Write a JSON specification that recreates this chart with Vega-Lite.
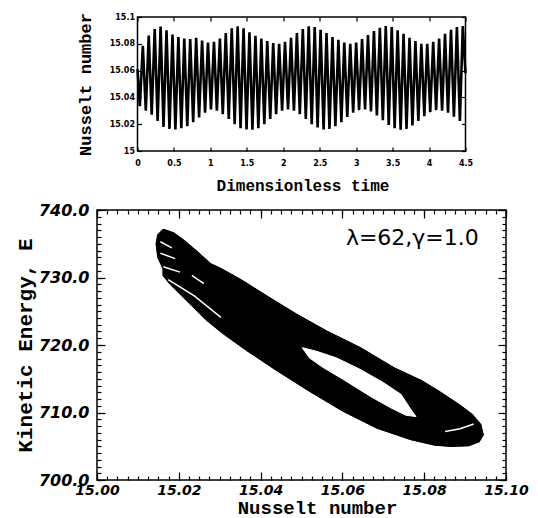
{
  "$schema": "https://vega.github.io/schema/vega-lite/v6.json",
  "padding": {"left": 13, "top": 11, "right": 0, "bottom": 0},
  "background": "white",
  "spacing": 59,
  "bounds": "flush",
  "center": true,
  "config": {
    "view": {"stroke": "black", "strokeWidth": 1.5},
    "axis": {"grid": false, "domain": false, "tickColor": "black", "labelColor": "black", "titleColor": "black", "tickWidth": 1.2}
  },
  "datasets": {
    "series": [
      {"t": 0, "nu": 15.061},
      {"t": 0.032, "nu": 15.0335}, {"t": 0.073, "nu": 15.0785},
      {"t": 0.114, "nu": 15.0300}, {"t": 0.154, "nu": 15.0862},
      {"t": 0.195, "nu": 15.0270}, {"t": 0.236, "nu": 15.0910},
      {"t": 0.276, "nu": 15.0225}, {"t": 0.317, "nu": 15.0928},
      {"t": 0.357, "nu": 15.0180}, {"t": 0.398, "nu": 15.0900},
      {"t": 0.439, "nu": 15.0165}, {"t": 0.480, "nu": 15.0870},
      {"t": 0.520, "nu": 15.0160}, {"t": 0.561, "nu": 15.0850},
      {"t": 0.601, "nu": 15.0170}, {"t": 0.642, "nu": 15.0840},
      {"t": 0.683, "nu": 15.0185}, {"t": 0.723, "nu": 15.0835},
      {"t": 0.764, "nu": 15.0215}, {"t": 0.805, "nu": 15.0845},
      {"t": 0.845, "nu": 15.0250}, {"t": 0.886, "nu": 15.0825},
      {"t": 0.927, "nu": 15.0285}, {"t": 0.967, "nu": 15.0810},
      {"t": 1.008, "nu": 15.0310}, {"t": 1.049, "nu": 15.0815},
      {"t": 1.089, "nu": 15.0300}, {"t": 1.130, "nu": 15.0840},
      {"t": 1.170, "nu": 15.0275}, {"t": 1.211, "nu": 15.0880},
      {"t": 1.252, "nu": 15.0240}, {"t": 1.293, "nu": 15.0915},
      {"t": 1.333, "nu": 15.0200}, {"t": 1.374, "nu": 15.0930},
      {"t": 1.414, "nu": 15.0170}, {"t": 1.455, "nu": 15.0915},
      {"t": 1.496, "nu": 15.0160}, {"t": 1.536, "nu": 15.0885},
      {"t": 1.577, "nu": 15.0158}, {"t": 1.618, "nu": 15.0860},
      {"t": 1.658, "nu": 15.0170}, {"t": 1.699, "nu": 15.0840},
      {"t": 1.740, "nu": 15.0200}, {"t": 1.780, "nu": 15.0820},
      {"t": 1.821, "nu": 15.0240}, {"t": 1.862, "nu": 15.0805},
      {"t": 1.902, "nu": 15.0275}, {"t": 1.943, "nu": 15.0800},
      {"t": 1.984, "nu": 15.0300}, {"t": 2.024, "nu": 15.0815},
      {"t": 2.065, "nu": 15.0310}, {"t": 2.106, "nu": 15.0845},
      {"t": 2.146, "nu": 15.0300}, {"t": 2.187, "nu": 15.0880},
      {"t": 2.227, "nu": 15.0275}, {"t": 2.268, "nu": 15.0910},
      {"t": 2.309, "nu": 15.0240}, {"t": 2.349, "nu": 15.0930},
      {"t": 2.390, "nu": 15.0200}, {"t": 2.431, "nu": 15.0925},
      {"t": 2.471, "nu": 15.0175}, {"t": 2.512, "nu": 15.0905},
      {"t": 2.553, "nu": 15.0160}, {"t": 2.593, "nu": 15.0880},
      {"t": 2.634, "nu": 15.0165}, {"t": 2.675, "nu": 15.0850},
      {"t": 2.715, "nu": 15.0185}, {"t": 2.756, "nu": 15.0830},
      {"t": 2.797, "nu": 15.0215}, {"t": 2.837, "nu": 15.0810},
      {"t": 2.878, "nu": 15.0255}, {"t": 2.919, "nu": 15.0800},
      {"t": 2.959, "nu": 15.0285}, {"t": 3.000, "nu": 15.0810},
      {"t": 3.040, "nu": 15.0305}, {"t": 3.081, "nu": 15.0835},
      {"t": 3.122, "nu": 15.0310}, {"t": 3.162, "nu": 15.0865},
      {"t": 3.203, "nu": 15.0295}, {"t": 3.244, "nu": 15.0895},
      {"t": 3.284, "nu": 15.0265}, {"t": 3.325, "nu": 15.0920},
      {"t": 3.366, "nu": 15.0230}, {"t": 3.406, "nu": 15.0932},
      {"t": 3.447, "nu": 15.0195}, {"t": 3.488, "nu": 15.0925},
      {"t": 3.528, "nu": 15.0170}, {"t": 3.569, "nu": 15.0900},
      {"t": 3.610, "nu": 15.0158}, {"t": 3.650, "nu": 15.0875},
      {"t": 3.691, "nu": 15.0165}, {"t": 3.732, "nu": 15.0845},
      {"t": 3.772, "nu": 15.0190}, {"t": 3.813, "nu": 15.0820},
      {"t": 3.853, "nu": 15.0225}, {"t": 3.894, "nu": 15.0800},
      {"t": 3.935, "nu": 15.0260}, {"t": 3.975, "nu": 15.0800},
      {"t": 4.016, "nu": 15.0290}, {"t": 4.057, "nu": 15.0815},
      {"t": 4.097, "nu": 15.0305}, {"t": 4.138, "nu": 15.0840},
      {"t": 4.179, "nu": 15.0300}, {"t": 4.219, "nu": 15.0875},
      {"t": 4.260, "nu": 15.0285}, {"t": 4.301, "nu": 15.0905},
      {"t": 4.341, "nu": 15.0255}, {"t": 4.382, "nu": 15.0925},
      {"t": 4.423, "nu": 15.0225}, {"t": 4.463, "nu": 15.0932},
      {"t": 4.5, "nu": 15.058}
    ],
    "outer": [
      {"i": 0, "nu": 15.0162, "e": 737.1}, {"i": 1, "nu": 15.0187, "e": 736.6},
      {"i": 2, "nu": 15.0212, "e": 735.5}, {"i": 3, "nu": 15.0245, "e": 733.8},
      {"i": 4, "nu": 15.0278, "e": 732.0}, {"i": 5, "nu": 15.0303, "e": 731.3},
      {"i": 6, "nu": 15.0353, "e": 729.6}, {"i": 7, "nu": 15.0419, "e": 727.1},
      {"i": 8, "nu": 15.0486, "e": 724.6}, {"i": 9, "nu": 15.0560, "e": 722.1},
      {"i": 10, "nu": 15.0643, "e": 719.6}, {"i": 11, "nu": 15.0726, "e": 716.6},
      {"i": 12, "nu": 15.0793, "e": 714.7}, {"i": 13, "nu": 15.0834, "e": 713.2},
      {"i": 14, "nu": 15.0884, "e": 711.2}, {"i": 15, "nu": 15.0917, "e": 709.7},
      {"i": 16, "nu": 15.0938, "e": 708.2}, {"i": 17, "nu": 15.0944, "e": 706.7},
      {"i": 18, "nu": 15.0934, "e": 705.7}, {"i": 19, "nu": 15.0909, "e": 705.1},
      {"i": 20, "nu": 15.0867, "e": 705.0}, {"i": 21, "nu": 15.0826, "e": 705.2},
      {"i": 22, "nu": 15.0768, "e": 706.0}, {"i": 23, "nu": 15.0685, "e": 707.7},
      {"i": 24, "nu": 15.0602, "e": 710.2}, {"i": 25, "nu": 15.0519, "e": 713.2},
      {"i": 26, "nu": 15.0436, "e": 716.4}, {"i": 27, "nu": 15.0369, "e": 719.1},
      {"i": 28, "nu": 15.0311, "e": 721.6}, {"i": 29, "nu": 15.0270, "e": 723.6},
      {"i": 30, "nu": 15.0220, "e": 726.6}, {"i": 31, "nu": 15.0178, "e": 729.1},
      {"i": 32, "nu": 15.0162, "e": 730.3}, {"i": 33, "nu": 15.0162, "e": 731.3},
      {"i": 34, "nu": 15.0149, "e": 733.0}, {"i": 35, "nu": 15.0145, "e": 735.0},
      {"i": 36, "nu": 15.0149, "e": 736.3}, {"i": 37, "nu": 15.0162, "e": 737.1}
    ],
    "hole": [
      {"i": 0, "nu": 15.0502, "e": 719.6}, {"i": 1, "nu": 15.0535, "e": 719.1},
      {"i": 2, "nu": 15.0585, "e": 718.1}, {"i": 3, "nu": 15.0643, "e": 716.4},
      {"i": 4, "nu": 15.0701, "e": 714.4}, {"i": 5, "nu": 15.0743, "e": 712.7},
      {"i": 6, "nu": 15.0768, "e": 710.4}, {"i": 7, "nu": 15.0780, "e": 709.4},
      {"i": 8, "nu": 15.0755, "e": 709.6}, {"i": 9, "nu": 15.0718, "e": 710.7},
      {"i": 10, "nu": 15.0668, "e": 712.4}, {"i": 11, "nu": 15.0602, "e": 714.9},
      {"i": 12, "nu": 15.0552, "e": 716.7}, {"i": 13, "nu": 15.0519, "e": 718.1},
      {"i": 14, "nu": 15.0502, "e": 719.6}
    ],
    "streaks": [
      {"seg": "a", "i": 0, "nu": 15.0174, "e": 729.7}, {"seg": "a", "i": 1, "nu": 15.0237, "e": 727.3}, {"seg": "a", "i": 2, "nu": 15.0303, "e": 724.1},
      {"seg": "b", "i": 0, "nu": 15.0155, "e": 735.3}, {"seg": "b", "i": 1, "nu": 15.0183, "e": 734.4},
      {"seg": "c", "i": 0, "nu": 15.0155, "e": 733.6}, {"seg": "c", "i": 1, "nu": 15.0191, "e": 732.8},
      {"seg": "d", "i": 0, "nu": 15.0162, "e": 731.6}, {"seg": "d", "i": 1, "nu": 15.0203, "e": 730.8},
      {"seg": "e", "i": 0, "nu": 15.0232, "e": 730.3}, {"seg": "e", "i": 1, "nu": 15.0261, "e": 729.1},
      {"seg": "f", "i": 0, "nu": 15.0851, "e": 707.2}, {"seg": "f", "i": 1, "nu": 15.0888, "e": 707.6}, {"seg": "f", "i": 2, "nu": 15.0921, "e": 708.3}
    ],
    "note": [
      {"nu": 15.0771, "e": 735.9, "label": "λ=62,γ=1.0"}
    ]
  },
  "vconcat": [
    {
      "width": 328,
      "height": 134,
      "data": {"name": "series"},
      "resolve": {"axis": {"x": "independent", "y": "independent"}},
      "layer": [
        {
          "mark": {"type": "line", "color": "black", "strokeWidth": 2.6},
          "encoding": {
            "x": {"field": "t", "type": "quantitative", "scale": {"domain": [0, 4.5], "nice": false, "zero": false},
              "axis": {"orient": "bottom", "values": [0, 0.5, 1, 1.5, 2, 2.5, 3, 3.5, 4, 4.5], "format": "~g", "ticks": false,
                "labelFont": "DejaVu Sans", "labelFontWeight": "bold", "labelFontSize": 8, "labelPadding": 8, "labelFlush": false, "labelOverlap": false,
                "title": "Dimensionless time", "titleFont": "Liberation Mono", "titleFontSize": 16, "titleFontWeight": "bold", "titlePadding": 10, "titleX": 165}},
            "y": {"field": "nu", "type": "quantitative", "scale": {"domain": [15, 15.1], "nice": false, "zero": false},
              "axis": {"orient": "left", "values": [15, 15.02, 15.04, 15.06, 15.08, 15.1], "format": "~g", "ticks": false,
                "labelFont": "DejaVu Sans", "labelFontWeight": "bold", "labelFontSize": 8, "labelPadding": 3, "labelFlush": false, "labelOverlap": false,
                "title": "Nusselt number", "titleFont": "Liberation Mono", "titleFontSize": 17, "titleFontWeight": "bold", "titlePadding": 15}}
          }
        },
        {
          "mark": {"type": "line", "strokeOpacity": 0},
          "encoding": {
            "x": {"field": "t", "type": "quantitative", "scale": {"domain": [0, 4.5], "nice": false, "zero": false},
              "axis": {"orient": "bottom", "values": [0, 0.5, 1, 1.5, 2, 2.5, 3, 3.5, 4, 4.5], "labels": false, "ticks": true, "tickSize": -4, "title": null}},
            "y": {"field": "nu", "type": "quantitative", "scale": {"domain": [15, 15.1], "nice": false, "zero": false},
              "axis": {"orient": "left", "values": [15, 15.02, 15.04, 15.06, 15.08, 15.1], "labels": false, "ticks": true, "tickSize": -4, "title": null}}
          }
        },
        {
          "mark": {"type": "line", "strokeOpacity": 0},
          "encoding": {
            "x": {"field": "t", "type": "quantitative", "scale": {"domain": [0, 4.5], "nice": false, "zero": false},
              "axis": {"orient": "top", "values": [0, 0.5, 1, 1.5, 2, 2.5, 3, 3.5, 4, 4.5], "labels": false, "ticks": true, "tickSize": -4, "title": null}},
            "y": {"field": "nu", "type": "quantitative", "scale": {"domain": [15, 15.1], "nice": false, "zero": false},
              "axis": {"orient": "right", "values": [15, 15.02, 15.04, 15.06, 15.08, 15.1], "labels": false, "ticks": true, "tickSize": -4, "title": null}}
          }
        }
      ]
    },
    {
      "width": 409,
      "height": 270,
      "resolve": {"axis": {"x": "independent", "y": "independent"}},
      "layer": [
        {
          "data": {"name": "outer"},
          "mark": {"type": "line", "filled": true, "fill": "black", "stroke": "black", "strokeWidth": 1.5},
          "encoding": {
            "order": {"field": "i", "type": "quantitative"},
            "x": {"field": "nu", "type": "quantitative", "scale": {"domain": [15, 15.1], "nice": false, "zero": false},
              "axis": {"orient": "bottom", "values": [15, 15.02, 15.04, 15.06, 15.08, 15.1], "format": ".2f", "ticks": false,
                "labelFont": "DejaVu Sans", "labelFontWeight": "bold", "labelFontStyle": "italic", "labelFontSize": 14, "labelPadding": 3, "labelFlush": false, "labelOverlap": false,
                "title": "Nusselt number", "titleFont": "Liberation Mono", "titleFontSize": 19, "titleFontWeight": "bold", "titlePadding": 1, "titleX": 220}},
            "y": {"field": "e", "type": "quantitative", "scale": {"domain": [700, 740], "nice": false, "zero": false},
              "axis": {"orient": "left", "values": [700, 710, 720, 730, 740], "format": ".1f", "ticks": false,
                "labelFont": "DejaVu Sans", "labelFontWeight": "bold", "labelFontStyle": "italic", "labelFontSize": 16, "labelPadding": 8, "labelFlush": false, "labelOverlap": false,
                "title": "Kinetic Energy, E", "titleFont": "Liberation Mono", "titleFontSize": 21, "titleFontWeight": "bold", "titlePadding": 3}}
          }
        },
        {
          "data": {"name": "hole"},
          "mark": {"type": "line", "filled": true, "fill": "white", "stroke": "white", "strokeWidth": 1},
          "encoding": {
            "order": {"field": "i", "type": "quantitative"},
            "x": {"field": "nu", "type": "quantitative", "scale": {"domain": [15, 15.1], "nice": false, "zero": false},
              "axis": {"orient": "bottom", "values": [15, 15.0025, 15.005, 15.0075, 15.01, 15.0125, 15.015, 15.0175, 15.02, 15.0225, 15.025, 15.0275, 15.03, 15.0325, 15.035, 15.0375, 15.04, 15.0425, 15.045, 15.0475, 15.05, 15.0525, 15.055, 15.0575, 15.06, 15.0625, 15.065, 15.0675, 15.07, 15.0725, 15.075, 15.0775, 15.08, 15.0825, 15.085, 15.0875, 15.09, 15.0925, 15.095, 15.0975, 15.1], "labels": false, "ticks": true, "tickSize": -4, "title": null}},
            "y": {"field": "e", "type": "quantitative", "scale": {"domain": [700, 740], "nice": false, "zero": false},
              "axis": {"orient": "left", "values": [700, 701, 702, 703, 704, 705, 706, 707, 708, 709, 710, 711, 712, 713, 714, 715, 716, 717, 718, 719, 720, 721, 722, 723, 724, 725, 726, 727, 728, 729, 730, 731, 732, 733, 734, 735, 736, 737, 738, 739, 740], "labels": false, "ticks": true, "tickSize": -4, "title": null}}
          }
        },
        {
          "data": {"name": "streaks"},
          "mark": {"type": "line", "stroke": "white", "strokeWidth": 1.5},
          "encoding": {
            "detail": {"field": "seg", "type": "nominal"},
            "order": {"field": "i", "type": "quantitative"},
            "x": {"field": "nu", "type": "quantitative", "scale": {"domain": [15, 15.1], "nice": false, "zero": false},
              "axis": {"orient": "top", "values": [15, 15.0025, 15.005, 15.0075, 15.01, 15.0125, 15.015, 15.0175, 15.02, 15.0225, 15.025, 15.0275, 15.03, 15.0325, 15.035, 15.0375, 15.04, 15.0425, 15.045, 15.0475, 15.05, 15.0525, 15.055, 15.0575, 15.06, 15.0625, 15.065, 15.0675, 15.07, 15.0725, 15.075, 15.0775, 15.08, 15.0825, 15.085, 15.0875, 15.09, 15.0925, 15.095, 15.0975, 15.1], "labels": false, "ticks": true, "tickSize": -4, "title": null}},
            "y": {"field": "e", "type": "quantitative", "scale": {"domain": [700, 740], "nice": false, "zero": false},
              "axis": {"orient": "right", "values": [700, 701, 702, 703, 704, 705, 706, 707, 708, 709, 710, 711, 712, 713, 714, 715, 716, 717, 718, 719, 720, 721, 722, 723, 724, 725, 726, 727, 728, 729, 730, 731, 732, 733, 734, 735, 736, 737, 738, 739, 740], "labels": false, "ticks": true, "tickSize": -4, "title": null}}
          }
        },
        {
          "data": {"name": "note"},
          "mark": {"type": "text", "font": "DejaVu Sans", "fontSize": 22, "align": "center", "baseline": "middle", "color": "black"},
          "encoding": {
            "text": {"field": "label", "type": "nominal"},
            "x": {"field": "nu", "type": "quantitative", "scale": {"domain": [15, 15.1], "nice": false, "zero": false},
              "axis": {"orient": "bottom", "values": [15, 15.02, 15.04, 15.06, 15.08, 15.1], "labels": false, "ticks": true, "tickSize": -8, "title": null}},
            "y": {"field": "e", "type": "quantitative", "scale": {"domain": [700, 740], "nice": false, "zero": false},
              "axis": {"orient": "left", "values": [700, 710, 720, 730, 740], "labels": false, "ticks": true, "tickSize": -8, "title": null}}
          }
        },
        {
          "data": {"name": "outer"},
          "mark": {"type": "line", "stroke": "black", "strokeWidth": 1},
          "encoding": {
            "order": {"field": "i", "type": "quantitative"},
            "x": {"field": "nu", "type": "quantitative", "scale": {"domain": [15, 15.1], "nice": false, "zero": false},
              "axis": {"orient": "top", "values": [15, 15.02, 15.04, 15.06, 15.08, 15.1], "labels": false, "ticks": true, "tickSize": -8, "title": null}},
            "y": {"field": "e", "type": "quantitative", "scale": {"domain": [700, 740], "nice": false, "zero": false},
              "axis": {"orient": "right", "values": [700, 710, 720, 730, 740], "labels": false, "ticks": true, "tickSize": -8, "title": null}}
          }
        }
      ]
    }
  ]
}
